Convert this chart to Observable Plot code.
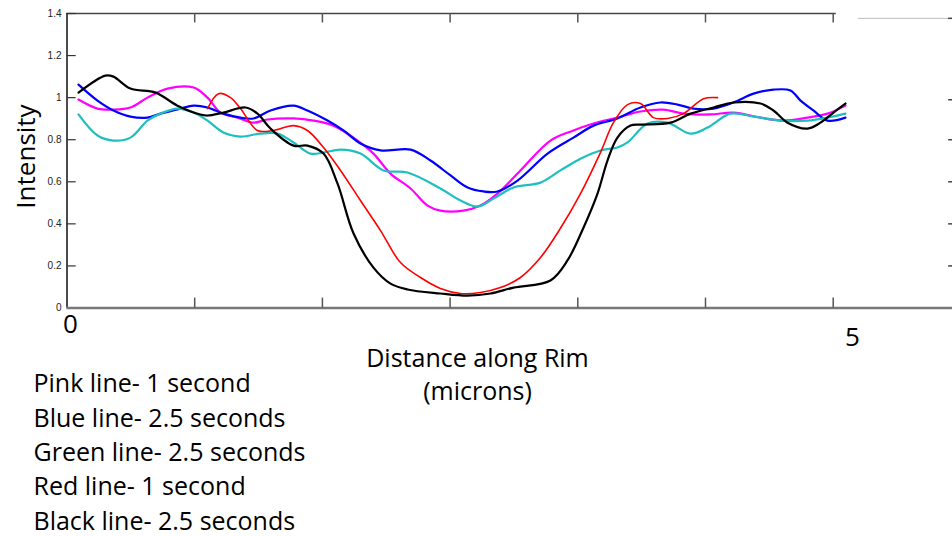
<!DOCTYPE html>
<html>
<head>
<meta charset="utf-8">
<script src="https://cdn.jsdelivr.net/npm/d3@7"></script>
<script src="https://cdn.jsdelivr.net/npm/@observablehq/plot@0.6"></script>
<style>
  html, body { margin: 0; padding: 0; background: #fff; }
  #chart { width: 952px; height: 536px; overflow: hidden; }
</style>
</head>
<body>
<div id="chart"></div>
<script>
// Distance along rim (microns) and intensity
const pink = [[0.075,0.991],[0.199,0.948],[0.303,0.943],[0.414,0.953],[0.525,1.000],[0.656,1.043],[0.826,1.048],[0.917,1.000],[1.002,0.929],[1.113,0.905],[1.217,0.881],[1.308,0.896],[1.478,0.901],[1.609,0.891],[1.739,0.867],[1.896,0.796],[2.000,0.734],[2.111,0.639],[2.242,0.568],[2.353,0.487],[2.437,0.463],[2.587,0.463],[2.698,0.487],[2.809,0.544],[2.959,0.654],[3.155,0.796],[3.305,0.844],[3.436,0.877],[3.592,0.905],[3.742,0.934],[3.893,0.943],[4.023,0.924],[4.199,0.920],[4.349,0.929],[4.526,0.905],[4.676,0.891],[4.832,0.905],[4.963,0.924],[5.080,0.962]];
const blue = [[0.075,1.062],[0.199,0.986],[0.303,0.939],[0.414,0.910],[0.525,0.905],[0.610,0.924],[0.741,0.948],[0.826,0.962],[0.917,0.953],[1.021,0.924],[1.132,0.905],[1.217,0.901],[1.328,0.939],[1.478,0.962],[1.569,0.939],[1.700,0.891],[1.804,0.844],[1.915,0.782],[2.046,0.749],[2.242,0.753],[2.372,0.701],[2.503,0.630],[2.614,0.573],[2.718,0.554],[2.809,0.554],[2.940,0.606],[3.136,0.734],[3.305,0.810],[3.436,0.867],[3.592,0.901],[3.742,0.953],[3.873,0.977],[3.984,0.967],[4.088,0.948],[4.219,0.948],[4.349,0.977],[4.480,1.019],[4.610,1.038],[4.721,1.034],[4.787,0.986],[4.871,0.939],[4.963,0.891],[5.080,0.905]];
const green = [[0.075,0.920],[0.199,0.820],[0.303,0.796],[0.414,0.810],[0.525,0.891],[0.610,0.924],[0.721,0.948],[0.826,0.929],[0.917,0.891],[1.021,0.834],[1.132,0.815],[1.263,0.829],[1.374,0.829],[1.478,0.787],[1.589,0.734],[1.674,0.739],[1.785,0.753],[1.915,0.734],[2.065,0.654],[2.222,0.644],[2.437,0.568],[2.568,0.511],[2.679,0.482],[2.783,0.520],[2.914,0.573],[3.090,0.596],[3.220,0.654],[3.351,0.710],[3.481,0.749],[3.592,0.763],[3.658,0.787],[3.788,0.877],[3.919,0.881],[4.069,0.829],[4.180,0.858],[4.330,0.924],[4.480,0.910],[4.656,0.891],[4.832,0.891],[4.963,0.905],[5.080,0.924]];
const red = [[0.917,0.948],[0.989,1.019],[1.067,1.000],[1.132,0.948],[1.243,0.844],[1.348,0.844],[1.478,0.867],[1.569,0.844],[1.674,0.763],[1.785,0.654],[1.915,0.511],[2.046,0.368],[2.176,0.216],[2.307,0.145],[2.437,0.093],[2.568,0.069],[2.698,0.074],[2.829,0.097],[2.959,0.145],[3.090,0.240],[3.220,0.379],[3.351,0.544],[3.481,0.739],[3.566,0.881],[3.658,0.967],[3.742,0.972],[3.827,0.905],[3.919,0.901],[4.023,0.924],[4.154,0.995],[4.245,1.000]];
const black = [[0.075,1.024],[0.251,1.105],[0.303,1.100],[0.414,1.043],[0.578,1.024],[0.721,0.962],[0.871,0.920],[0.917,0.915],[1.021,0.929],[1.165,0.953],[1.243,0.924],[1.328,0.853],[1.478,0.772],[1.569,0.772],[1.674,0.734],[1.765,0.592],[1.870,0.354],[2.000,0.192],[2.111,0.116],[2.222,0.088],[2.437,0.069],[2.614,0.059],[2.764,0.069],[2.914,0.097],[3.155,0.131],[3.266,0.226],[3.371,0.383],[3.462,0.544],[3.527,0.701],[3.592,0.810],[3.677,0.867],[3.742,0.872],[3.938,0.881],[4.069,0.924],[4.219,0.953],[4.349,0.977],[4.526,0.972],[4.610,0.939],[4.702,0.881],[4.832,0.853],[4.917,0.881],[5.002,0.929],[5.080,0.972]];

const seriesNames = ["Pink", "Blue", "Green", "Red", "Black"];
const seriesColors = ["#ff00ff", "#0000ff", "#1fbfbf", "#ff0000", "#000000"];
const seriesWidths = [2.2, 2.2, 2.2, 1.6, 2.2];
const seriesData = [pink, blue, green, red, black];

const xTicks = [5/6, 10/6, 15/6, 20/6, 25/6, 5];
const yTicks = [0, 0.2, 0.4, 0.6, 0.8, 1, 1.2, 1.4];
const yTickLabels = ["0", "0.2", "0.4", "0.6", "0.8", "1", "1.2", "1.4"];
const rightTicks = [0.2, 0.4, 0.6, 0.8, 0.99, 1.377];
const legendLines = ["Pink line- 1 second", "Blue line- 2.5 seconds", "Green line- 2.5 seconds", "Red line- 1 second", "Black line- 2.5 seconds"];
const xTitle = ["Distance along Rim", "(microns)"];
const yTitle = "Intensity";

const W = 952, H = 536, mL = 66.5, mR = 0, mT = 13, mB = 228.5;
const xMax = 5 * (W - mL) / (832.7 - mL);

const rows = seriesData.flatMap((arr, i) => arr.map(([x, y]) => ({series: seriesNames[i], x, y})));

const font = "'Open Sans', sans-serif";
const fs = 25;
const marks = [
  Plot.ruleX([0], {y1: 0, y2: 1.4, stroke: "#111", strokeWidth: 1.5}),
  Plot.ruleY([0], {x1: 0, x2: xMax, stroke: "#777", strokeWidth: 2.5}),
  Plot.ruleY([1.4], {x1: 0, x2: 5.02, stroke: "#444", strokeWidth: 1.5}),
  Plot.ruleY([1.377], {x1: 5.165, x2: xMax, stroke: "#bbb", strokeWidth: 1}),
  Plot.ruleX(xTicks, {y1: 0, y2: 0.047, stroke: "#555", strokeWidth: 1.5}),
  Plot.ruleX(xTicks, {y1: 1.4, y2: 1.355, stroke: "#555", strokeWidth: 1.5}),
  Plot.ruleY(yTicks.slice(1), {x1: 0, x2: 0.06, stroke: "#333", strokeWidth: 1.2}),
  Plot.ruleY(rightTicks, {x1: xMax - 0.025, x2: xMax, stroke: "#444", strokeWidth: 1.5}),
  Plot.axisY(yTicks, {tickSize: 0, tickPadding: 5.5, label: null, tickFormat: (d, i) => yTickLabels[i], fontSize: 10, fontFamily: "'Liberation Sans', Arial, sans-serif", fill: "#222"}),
  ...seriesNames.map((s, i) => Plot.line(rows.filter(r => r.series === s), {x: "x", y: "y", stroke: seriesColors[i], strokeWidth: seriesWidths[i], curve: "catmull-rom"})),
  Plot.text(["0"], {x: 0, y: 0, dx: 3.5, dy: 17, fontSize: 26, fontFamily: font, fill: "#000"}),
  Plot.text(["5"], {x: 5, y: 0, dx: 19.3, dy: 30, fontSize: 26, fontFamily: font, fill: "#000"}),
  Plot.text([yTitle], {frameAnchor: "top-left", dx: 26 - mL, dy: 156 - mT, rotate: -90, textAnchor: "middle", lineAnchor: "middle", fontSize: 26, fontFamily: font, fill: "#000"}),
  Plot.text([xTitle.join("\n")], {frameAnchor: "bottom", dx: 477 - (mL + (W - mL) / 2), dy: 35, lineAnchor: "top", lineHeight: 33.5 / fs, textAnchor: "middle", fontSize: fs, fontFamily: font, fill: "#000"}),
  Plot.text([legendLines.join("\n")], {frameAnchor: "bottom-left", dx: 33 - mL, dy: 60, lineAnchor: "top", lineHeight: 34.3 / fs, textAnchor: "start", fontSize: fs, fontFamily: font, fill: "#000"})
];

const chart = Plot.plot({
  width: W, height: H,
  marginLeft: mL, marginRight: mR, marginTop: mT, marginBottom: mB,
  x: {domain: [0, xMax], axis: null},
  y: {domain: [0, 1.4], axis: null},
  style: {background: "#fff", overflow: "visible"},
  marks
});
document.getElementById("chart").appendChild(chart);
</script>
</body>
</html>
